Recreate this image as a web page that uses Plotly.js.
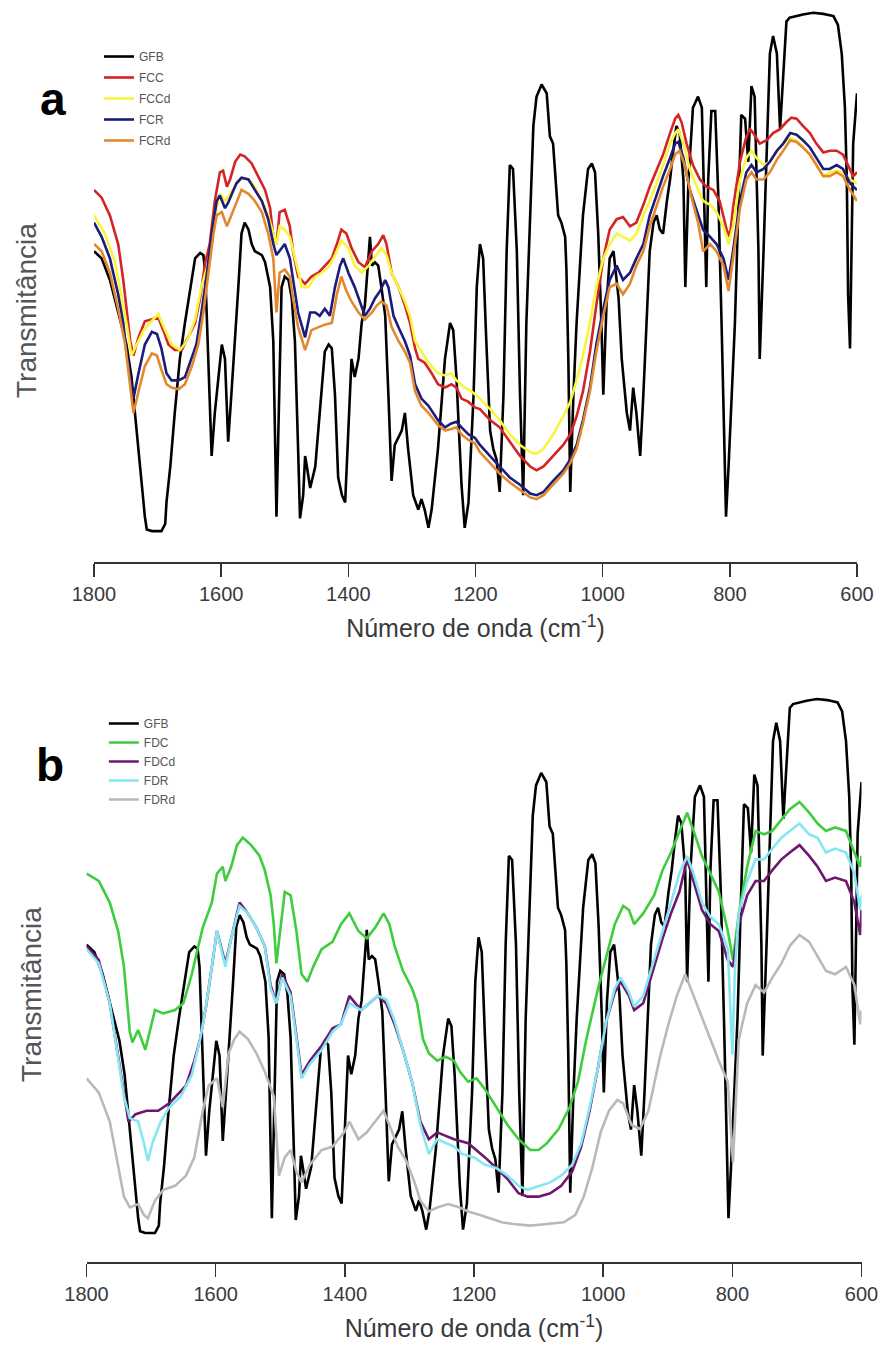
<!DOCTYPE html>
<html>
<head>
<meta charset="utf-8">
<script src="https://cdn.plot.ly/plotly-3.0.1.min.js"></script>
<style>
  html, body { margin: 0; padding: 0; background: #ffffff; }
  #chart { width: 880px; height: 1355px; }
</style>
</head>
<body>
<div id="chart"></div>
<script>
// ---------------- DATA (wavenumber in cm-1, transmittance in arbitrary units) ----------------
const tickVals = [1800, 1600, 1400, 1200, 1000, 800, 600];
const tickText = ['1800', '1600', '1400', '1200', '1000', '800', '600'];

// GFB (same spectrum shown in both panels)
const gfbWn = [1800,1788,1775,1762,1749,1741,1733,1725,1720,1717,1709,1694,1688,1686,1680,1673,1665,1657,1646,1641,1633,1628,1625,1620,1615,1610,1604,1599,1594,1589,1584,1578,1573,1568,1563,1557,1552,1547,1536,1531,1523,1518,1515,1513,1510,1505,1500,1494,1489,1484,1479,1476,1471,1468,1466,1460,1452,1447,1442,1437,1431,1426,1421,1416,1410,1405,1400,1395,1390,1384,1379,1374,1366,1363,1358,1353,1348,1342,1337,1332,1327,1321,1316,1311,1306,1298,1290,1285,1280,1274,1269,1259,1248,1240,1235,1230,1222,1217,1211,1203,1198,1193,1188,1183,1177,1172,1167,1162,1156,1151,1146,1141,1135,1130,1125,1120,1114,1109,1104,1096,1088,1083,1078,1072,1070,1065,1059,1057,1054,1051,1046,1041,1031,1023,1017,1012,1007,1002,999,994,989,983,975,970,962,957,952,947,941,936,931,926,920,915,910,905,899,894,889,884,879,873,870,865,858,850,844,842,839,837,834,829,823,821,818,813,808,806,802,797,792,787,782,776,771,766,761,755,753,747,742,737,732,726,721,716,711,706,685,669,653,637,630,624,619,616,614,611,609,606,600];
const gfbT = [56.3,55.0,51.1,45.2,39.4,33.5,23.8,14.0,8.2,5.9,5.6,5.6,6.9,10.8,17.3,27.0,36.8,43.3,51.1,55.0,56.0,55.6,52.4,36.8,19.2,27.0,33.5,39.4,36.8,21.8,30.3,40.0,49.8,59.5,61.5,60.2,57.6,56.3,55.6,54.3,49.8,40.0,23.8,8.2,23.8,49.8,51.7,51.1,47.8,40.0,20.5,7.9,12.1,19.2,17.9,13.4,17.3,23.8,30.3,38.1,39.4,38.7,30.3,15.3,12.1,10.8,23.8,36.8,33.5,36.8,43.3,46.5,58.9,53.7,54.3,53.7,49.8,44.6,30.3,14.7,21.2,22.5,23.8,27.0,20.5,12.1,9.5,11.4,9.5,6.2,9.5,20.5,36.8,43.3,42.0,33.5,14.0,6.2,10.8,30.3,49.8,57.6,55.0,40.0,23.8,20.5,18.6,12.7,30.3,56.3,71.9,71.2,56.3,30.3,12.1,43.3,62.8,79.0,84.3,86.5,84.9,77.1,75.8,66.0,62.8,61.5,58.9,53.0,36.8,12.7,30.3,43.3,62.8,71.2,72.2,70.6,59.5,43.3,30.3,46.5,55.0,56.3,47.8,36.8,27.0,23.8,31.6,27.0,19.2,30.3,43.3,56.3,61.5,62.8,60.2,59.5,65.4,69.3,74.5,79.0,77.7,69.3,49.8,69.3,82.3,84.3,82.3,72.5,59.5,49.8,69.3,81.7,81.7,75.8,66.0,43.3,17.3,8.2,17.3,30.3,43.3,62.8,81.0,80.3,72.5,86.2,84.3,56.3,36.8,56.3,75.8,92.1,95.3,92.1,78.4,88.8,97.9,98.6,99.2,99.5,99.3,98.9,97.3,92.1,82.3,69.3,48.5,38.7,56.3,75.8,84.9];

// Panel a
const fccWn = [1800,1788,1775,1762,1754,1749,1743,1738,1730,1720,1709,1699,1691,1683,1673,1662,1652,1641,1633,1625,1618,1610,1602,1597,1591,1586,1578,1570,1563,1552,1542,1531,1523,1518,1513,1508,1500,1492,1487,1479,1468,1458,1447,1437,1426,1418,1411,1403,1395,1384,1374,1363,1353,1345,1340,1332,1321,1311,1303,1295,1290,1280,1269,1259,1248,1238,1230,1222,1211,1201,1193,1177,1162,1146,1130,1114,1104,1093,1078,1062,1051,1041,1031,1020,1010,999,989,978,968,957,947,936,926,915,905,894,886,881,876,868,858,847,837,826,816,805,800,795,784,774,768,763,753,742,732,721,711,703,695,685,674,664,653,643,632,622,614,606,600];
const fccT = [67.4,66.0,62.8,57.6,51.1,46.5,40.0,37.4,40.7,43.6,43.9,44.3,42.0,39.4,38.4,38.4,40.7,43.3,47.8,54.3,57.6,65.4,70.6,70.9,68.0,69.3,72.5,73.8,73.5,72.2,69.9,67.4,64.1,58.9,57.6,63.4,63.8,60.8,56.3,51.7,50.4,51.7,52.4,53.7,55.0,57.6,60.2,59.5,56.9,54.3,53.4,56.3,57.6,59.2,57.6,52.4,49.8,46.5,43.3,38.7,36.8,36.1,34.2,32.2,31.6,32.2,31.6,29.6,29.0,28.0,27.7,25.7,24.4,21.8,19.2,17.3,16.6,17.3,19.2,21.2,23.1,26.4,30.9,38.1,46.5,55.0,60.2,62.1,62.5,60.8,61.5,64.7,68.0,71.2,73.8,77.7,80.3,81.0,79.7,75.8,71.9,69.3,68.0,67.4,65.4,60.2,58.9,64.1,72.5,77.1,78.4,77.7,75.8,76.4,77.7,78.4,79.7,80.5,80.3,79.0,77.7,75.8,74.2,74.5,74.5,73.8,71.9,69.9,70.6];

const fccdWn = [1800,1783,1767,1757,1749,1741,1733,1722,1712,1699,1688,1678,1665,1654,1641,1631,1620,1610,1602,1594,1586,1578,1568,1557,1547,1536,1526,1518,1513,1508,1500,1492,1484,1473,1463,1452,1442,1431,1421,1411,1400,1390,1379,1368,1358,1348,1340,1332,1321,1311,1303,1295,1285,1274,1259,1248,1238,1230,1217,1206,1193,1177,1162,1146,1130,1114,1104,1093,1078,1062,1051,1041,1031,1020,1010,999,989,978,968,957,947,936,926,915,905,894,886,881,873,863,852,842,831,821,810,802,795,784,774,766,758,747,737,726,716,705,695,685,674,664,653,643,632,622,611,600];
const fccdT = [62.8,59.5,54.3,48.5,43.3,37.4,39.4,42.0,43.3,44.9,42.0,39.4,38.4,40.0,43.9,49.8,54.3,62.8,66.7,65.4,66.7,68.0,69.6,69.3,68.0,65.4,62.8,59.5,57.6,60.8,60.2,58.9,55.0,49.8,49.8,51.7,52.4,53.4,55.6,58.2,56.9,53.7,52.4,53.7,55.3,56.9,55.6,52.4,49.8,47.2,44.6,40.0,38.1,36.1,34.2,33.8,34.2,32.9,31.6,30.9,29.6,27.7,25.7,23.1,21.2,19.9,19.6,20.5,23.1,26.4,29.0,32.9,37.4,43.3,49.8,55.0,57.6,59.5,58.9,58.2,59.5,62.8,65.4,68.6,71.9,75.8,77.7,78.4,75.8,71.2,68.0,65.4,64.7,63.4,60.8,57.6,60.8,69.3,73.2,74.5,73.2,71.9,72.5,74.5,75.8,76.8,76.4,75.1,73.8,71.9,69.9,70.6,70.9,70.6,69.3,68.6];

const fcrWn = [1800,1788,1775,1762,1754,1749,1743,1738,1730,1720,1709,1701,1694,1686,1678,1667,1657,1649,1639,1631,1623,1615,1607,1602,1594,1589,1576,1568,1557,1547,1536,1526,1518,1513,1505,1500,1492,1487,1479,1468,1460,1452,1445,1437,1429,1421,1413,1408,1400,1390,1382,1374,1366,1358,1350,1342,1337,1329,1319,1311,1303,1295,1285,1274,1259,1248,1238,1230,1222,1211,1201,1193,1177,1162,1146,1130,1114,1104,1093,1078,1062,1051,1041,1031,1020,1010,999,989,978,968,957,947,936,926,915,905,894,886,881,873,863,852,842,831,821,810,802,795,784,774,766,758,747,737,726,716,705,695,685,674,664,653,643,632,622,611,600];
const fcrT = [61.5,58.9,55.0,48.5,43.3,38.1,33.5,29.6,34.2,39.4,41.7,41.3,38.7,34.2,32.9,32.9,33.5,36.1,39.4,45.2,51.7,59.5,65.4,66.4,64.1,65.1,68.6,69.6,69.3,67.4,65.4,62.1,57.6,55.6,56.9,57.6,55.0,51.1,45.2,40.7,45.2,45.2,44.6,45.9,44.6,49.8,53.7,55.0,52.4,49.8,47.2,44.6,45.9,47.8,49.1,51.1,49.8,44.6,42.0,40.0,37.4,32.2,29.6,28.3,25.7,24.4,25.1,25.4,24.4,23.1,22.5,21.2,19.2,17.3,15.3,14.0,12.4,12.1,12.7,14.7,16.6,18.6,21.2,25.7,31.6,39.4,45.9,51.1,53.7,51.1,52.4,55.0,57.6,62.8,66.7,69.9,73.2,75.8,76.1,73.2,67.4,63.4,60.2,58.9,57.6,55.0,51.1,56.3,65.4,70.6,71.9,70.6,71.2,72.5,74.5,75.8,77.7,77.4,76.4,75.1,73.2,71.2,71.2,71.9,71.2,68.6,67.4];

const fcrdWn = [1800,1788,1775,1762,1751,1743,1738,1730,1720,1709,1701,1694,1686,1678,1667,1657,1646,1636,1628,1620,1612,1607,1599,1591,1584,1576,1568,1557,1547,1536,1526,1518,1513,1508,1500,1492,1487,1479,1468,1458,1447,1437,1426,1418,1411,1403,1395,1384,1374,1363,1355,1348,1340,1332,1321,1311,1303,1295,1285,1274,1259,1248,1238,1230,1222,1211,1201,1193,1177,1162,1146,1130,1114,1104,1093,1078,1062,1051,1041,1031,1020,1010,999,989,978,968,957,947,936,926,915,905,894,886,879,871,860,850,842,831,821,810,802,795,784,774,766,758,747,737,726,716,705,695,685,674,664,653,643,632,622,611,600];
const fcrdT = [57.6,56.3,52.4,45.9,39.4,32.2,27.0,30.9,35.5,37.8,37.4,34.8,32.2,31.6,31.3,32.2,35.5,39.4,45.2,52.4,59.5,62.8,63.4,60.8,62.8,65.4,67.4,66.7,65.4,63.4,59.5,55.0,45.2,52.4,53.0,51.7,47.8,42.6,38.4,42.0,42.6,43.0,43.3,48.5,51.7,49.1,47.2,45.2,43.9,45.2,46.5,47.2,46.5,42.6,40.0,38.1,36.1,30.9,28.3,27.0,24.8,23.8,24.1,24.4,23.1,22.1,21.5,19.9,17.9,16.0,14.4,13.1,11.7,11.4,12.1,14.0,16.0,17.9,20.5,25.1,30.9,38.1,44.6,49.8,50.4,48.5,50.4,53.7,56.3,60.8,64.7,68.0,71.2,73.8,74.5,71.9,66.0,61.5,56.3,57.6,56.3,53.7,49.1,55.0,64.1,69.3,70.6,69.3,69.3,70.6,72.9,74.5,76.4,76.1,75.1,73.8,71.9,69.9,69.9,70.6,69.9,67.4,65.4];

// Panel b
const fdcWn = [1800,1781,1764,1751,1742,1737,1733,1729,1720,1709,1694,1681,1663,1650,1637,1628,1620,1606,1598,1589,1585,1576,1567,1558,1545,1532,1524,1515,1510,1506,1497,1493,1484,1475,1467,1458,1449,1436,1419,1406,1393,1379,1366,1353,1340,1331,1323,1310,1296,1288,1279,1270,1257,1244,1231,1222,1209,1196,1183,1165,1148,1131,1113,1100,1087,1069,1052,1039,1026,1008,995,982,969,960,952,938,921,908,895,882,870,860,847,834,821,807,799,790,777,764,751,738,724,711,696,681,668,655,641,624,611,602,600];
const fdcT = [68.8,67.5,63.7,58.7,52.4,46.0,41.0,39.1,41.3,37.8,44.8,44.2,44.8,46.0,51.1,55.5,59.3,63.7,68.8,70.0,67.5,70.0,73.8,75.1,73.8,71.9,69.4,65.0,59.9,53.0,61.8,65.6,65.0,58.7,51.1,49.8,52.4,55.5,56.8,59.9,61.8,58.7,57.4,59.3,61.8,59.9,56.1,51.7,48.6,46.0,39.7,37.2,35.9,36.6,35.9,34.0,32.2,32.8,30.9,27.7,24.6,22.1,20.2,20.2,21.4,23.9,27.7,32.2,39.7,48.6,54.2,59.9,63.1,62.4,59.9,61.8,65.0,69.4,72.5,76.3,79.5,76.3,71.9,68.8,65.6,58.7,53.6,61.8,70.0,76.3,75.7,76.3,78.2,80.1,81.4,79.5,77.6,76.3,76.9,76.3,72.5,70.0,71.9];

const fdcdWn = [1800,1781,1764,1751,1742,1735,1724,1707,1689,1672,1646,1633,1624,1615,1606,1598,1585,1576,1563,1550,1537,1524,1515,1506,1497,1484,1475,1467,1454,1436,1419,1406,1393,1375,1362,1349,1336,1323,1310,1296,1283,1270,1257,1244,1231,1209,1196,1183,1165,1148,1131,1117,1100,1082,1065,1048,1034,1021,1008,995,982,973,960,952,938,921,908,895,882,870,860,847,834,821,807,799,790,777,764,751,738,724,711,696,681,668,655,641,624,611,602,600];
const fdcdT = [56.1,53.6,46.0,36.6,30.3,25.2,26.5,27.1,27.1,28.4,31.5,35.9,39.7,45.4,52.4,58.7,53.0,57.4,63.7,61.8,59.3,56.1,49.2,46.0,51.1,47.9,39.7,33.4,35.9,38.5,41.6,42.3,47.3,44.8,46.0,47.3,46.0,42.3,37.8,32.2,25.2,22.1,23.3,22.7,22.1,21.4,20.2,18.9,17.0,15.1,12.6,12.0,12.0,12.6,13.9,16.4,20.8,27.1,34.7,42.9,47.9,49.8,47.3,44.8,46.0,52.4,57.4,61.8,65.6,71.3,67.5,62.4,59.9,58.7,53.6,52.4,59.9,65.0,67.5,67.5,69.4,71.3,72.5,73.8,71.9,70.0,67.5,68.1,67.5,63.7,58.0,62.4];

const fdrWn = [1800,1781,1764,1751,1742,1733,1720,1711,1705,1698,1685,1672,1654,1637,1624,1615,1606,1598,1585,1576,1563,1550,1537,1524,1515,1506,1497,1484,1475,1467,1454,1436,1419,1406,1393,1375,1362,1349,1336,1323,1310,1296,1283,1270,1257,1244,1231,1218,1200,1183,1165,1148,1131,1117,1100,1082,1065,1048,1034,1021,1008,995,982,973,960,952,938,921,908,895,882,870,860,847,834,821,807,800,796,790,777,764,751,738,724,711,696,681,668,655,641,624,611,602,600];
const fdrT = [55.5,53.0,46.0,36.6,29.6,25.8,25.2,21.4,18.3,21.4,25.2,27.7,29.6,33.4,39.7,45.4,52.4,58.7,52.4,57.4,63.1,61.8,59.3,56.1,48.6,46.0,50.5,47.3,39.7,32.8,35.3,37.8,41.0,42.3,46.0,44.8,46.0,47.3,46.7,42.9,37.8,32.2,24.6,19.5,22.1,21.4,20.8,19.5,18.9,17.6,17.0,15.7,13.9,13.2,13.9,14.5,15.7,17.6,21.4,27.7,34.7,42.9,48.6,50.5,47.9,45.4,47.3,53.6,58.7,63.7,68.8,71.9,68.8,63.7,61.2,59.9,55.5,37.0,52.0,61.8,67.5,71.3,71.3,73.2,75.1,76.3,77.6,75.7,75.1,72.5,73.2,72.5,68.8,62.4,65.0];

const fdrdWn = [1800,1781,1764,1751,1742,1733,1720,1711,1705,1694,1681,1663,1646,1633,1620,1611,1598,1589,1580,1571,1563,1550,1537,1524,1510,1502,1493,1484,1475,1467,1454,1436,1419,1401,1393,1379,1366,1353,1340,1331,1318,1305,1292,1283,1270,1257,1240,1222,1209,1192,1174,1157,1139,1113,1087,1061,1043,1030,1017,1004,991,978,969,956,943,930,912,899,886,873,860,847,834,821,807,799,790,777,764,751,738,724,711,696,681,668,655,641,624,611,602,600];
const fdrdT = [32.8,30.3,25.2,17.6,12.0,10.1,10.7,8.8,8.2,11.3,13.2,13.9,15.7,18.9,27.1,31.5,32.8,27.7,37.2,39.7,41.0,39.7,37.2,34.0,29.6,15.7,18.9,20.2,16.4,14.5,17.6,20.2,20.8,23.3,25.2,22.1,23.3,25.2,27.1,24.6,20.8,18.3,14.5,11.3,9.4,10.1,10.7,10.1,9.4,8.8,8.2,7.5,7.2,6.9,7.2,7.5,8.8,12.0,17.0,23.3,27.1,29.0,28.4,24.6,23.9,27.1,36.6,42.3,47.3,51.1,47.3,43.5,39.7,35.9,32.2,18.0,39.7,46.0,49.2,47.9,50.5,53.0,56.1,58.0,56.8,54.2,51.7,51.1,52.4,49.2,42.3,44.8];

// ---------------- STYLE ----------------
const FONT = 'Liberation Sans, Arial, Helvetica, sans-serif';

function spectrum(name, wn, t, color, xa, ya, leg) {
  return {
    type: 'scatter', mode: 'lines', name: name,
    x: wn, y: t, xaxis: xa, yaxis: ya, legend: leg, legendgroup: name + xa,
    line: { color: color, width: 2.6, shape: 'linear' },
    hoverinfo: 'skip'
  };
}

const traces = [
  spectrum('GFB',  gfbWn,  gfbT,  '#000000', 'x',  'y',  'legend'),
  spectrum('FCC',  fccWn,  fccT,  '#d42424', 'x',  'y',  'legend'),
  spectrum('FCCd', fccdWn, fccdT, '#f7f53c', 'x',  'y',  'legend'),
  spectrum('FCR',  fcrWn,  fcrT,  '#1c1c7c', 'x',  'y',  'legend'),
  spectrum('FCRd', fcrdWn, fcrdT, '#e2892f', 'x',  'y',  'legend'),
  spectrum('GFB',  gfbWn,  gfbT,  '#000000', 'x2', 'y2', 'legend2'),
  spectrum('FDC',  fdcWn,  fdcT,  '#3fcc3f', 'x2', 'y2', 'legend2'),
  spectrum('FDCd', fdcdWn, fdcdT, '#6e1770', 'x2', 'y2', 'legend2'),
  spectrum('FDR',  fdrWn,  fdrT,  '#86e6f2', 'x2', 'y2', 'legend2'),
  spectrum('FDRd', fdrdWn, fdrdT, '#b9b9b9', 'x2', 'y2', 'legend2')
];

function xAxis(domain, anchor) {
  return {
    domain: domain, anchor: anchor, range: [1800, 600], autorange: false,
    tickmode: 'array', tickvals: tickVals, ticktext: tickText,
    ticks: 'outside', ticklen: 13, tickwidth: 1.6, tickcolor: '#333333',
    showline: true, linecolor: '#333333', linewidth: 1.6,
    showgrid: false, zeroline: false,
    tickfont: { family: FONT, size: 20, color: '#3a3a3a' },
    title: { text: 'Número de onda (cm<sup>-1</sup>)', font: { family: FONT, size: 25, color: '#3a3a3a' }, standoff: 16 },
    automargin: false
  };
}

const layout = {
  width: 880, height: 1355,
  margin: { l: 0, r: 0, t: 0, b: 0 },
  paper_bgcolor: '#ffffff', plot_bgcolor: 'rgba(0,0,0,0)',
  showlegend: true,
  xaxis:  xAxis([0.10682, 0.97386], 'y'),
  yaxis:  { domain: [0.58524, 1.0], range: [0, 101.81], visible: false, fixedrange: true },
  xaxis2: xAxis([0.09830, 0.97898], 'y2'),
  yaxis2: { domain: [0.06863, 0.49815], range: [0.51, 102.83], visible: false, fixedrange: true },
  legend: {
    x: 0.1125, xanchor: 'left', y: 0.969, yanchor: 'top',
    bgcolor: 'rgba(0,0,0,0)', borderwidth: 0,
    font: { family: FONT, size: 12, color: '#555555' },
    traceorder: 'grouped', tracegroupgap: 2
  },
  legend2: {
    x: 0.118, xanchor: 'left', y: 0.4768, yanchor: 'top',
    bgcolor: 'rgba(0,0,0,0)', borderwidth: 0,
    font: { family: FONT, size: 12, color: '#555555' },
    traceorder: 'grouped', tracegroupgap: 0
  },
  annotations: [
    { text: '<b>a</b>', xref: 'paper', yref: 'paper', x: 0.0602, y: 0.9273, xanchor: 'center', yanchor: 'middle',
      showarrow: false, font: { family: FONT, size: 46, color: '#000000' } },
    { text: '<b>b</b>', xref: 'paper', yref: 'paper', x: 0.0568, y: 0.4354, xanchor: 'center', yanchor: 'middle',
      showarrow: false, font: { family: FONT, size: 46, color: '#000000' } },
    { text: 'Transmitância', xref: 'paper', yref: 'paper', x: 0.0295, y: 0.7712, xanchor: 'center', yanchor: 'middle',
      textangle: -90, showarrow: false, font: { family: FONT, size: 28, color: '#555555' } },
    { text: 'Transmitância', xref: 'paper', yref: 'paper', x: 0.0364, y: 0.2657, xanchor: 'center', yanchor: 'middle',
      textangle: -90, showarrow: false, font: { family: FONT, size: 28, color: '#555555' } }
  ]
};

Plotly.newPlot('chart', traces, layout, { displayModeBar: false, staticPlot: true });
</script>
</body>
</html>
